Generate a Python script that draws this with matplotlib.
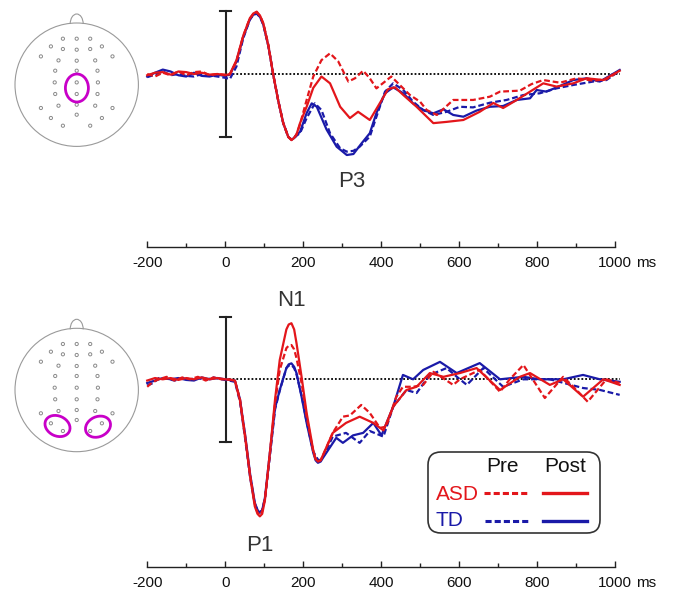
import matplotlib
matplotlib.use('Agg')
import matplotlib.pyplot as plt
from matplotlib.patches import Circle, Ellipse, Arc, FancyBboxPatch

plt.rcParams['font.family'] = ['Liberation Sans', 'DejaVu Sans']

RED = '#e3161b'
BLUE = '#1a1aa8'
MAGENTA = '#c800c8'

# ---------------- data (values in µV, negative plotted upward) ----------------
TIME_TICKS = [-200, 0, 200, 400, 600, 800, 1000]
TIME_TICK_LABELS = ['-200', '0', '200', '400', '600', '800', '1000']
TIME_UNIT = 'ms'
SCALE_BAR_UV = 5
BASELINE_SPAN = [0, 1012]

# Top panel (central ROI)
top_asd_pre_t = [-200, -180, -160, -140, -120, -100, -80, -60, -40, -20, 0, 12, 29, 46, 63, 72, 81, 90, 98, 111,
                 123, 136, 149, 162, 170, 176, 183, 192, 209, 226, 247, 269, 290, 316, 333, 354, 371, 388, 410, 426,
                 448, 474, 500, 517, 543, 585, 636, 679, 705, 756, 786, 816, 859, 902, 944, 978, 1012]
top_asd_pre_v = [0.0, 0.2, -0.1, 0.1, -0.2, 0.1, -0.15, -0.2, 0.1, 0.0, 0.05, 0.05, -1.0, -3.0, -4.4, -4.75, -4.9,
                 -4.6, -4.0, -2.3, 0.0, 2.1, 3.9, 5.0, 5.2, 5.1, 4.8, 4.0, 2.06, 0.2, -1.1, -1.64, -1.0, 0.6, 0.34,
                 -0.26, 0.34, 1.14, 0.6, 0.2, 0.87, 1.67, 2.2, 2.86, 3.25, 2.06, 2.06, 1.8, 1.4, 1.32, 0.8, 0.48,
                 0.69, 0.34, 0.53, 0.42, -0.26]
top_asd_post_t = [-200, -180, -160, -140, -120, -100, -80, -60, -40, -20, 0, 12, 29, 46, 63, 72, 81, 90, 98, 111,
                  123, 136, 149, 162, 170, 176, 183, 192, 209, 226, 247, 269, 295, 320, 341, 371, 397, 418, 436, 457,
                  491, 534, 568, 611, 653, 688, 713, 748, 782, 816, 850, 893, 927, 970, 1012]
top_asd_post_v = [0.1, -0.1, -0.15, 0.05, -0.2, -0.15, 0.0, -0.1, 0.05, 0.0, 0.1, 0.0, -1.1, -3.0, -4.4, -4.8, -4.95,
                  -4.6, -4.0, -2.2, 0.0, 2.1, 3.9, 5.0, 5.25, 5.1, 4.8, 3.9, 2.6, 1.1, 0.2, 0.74, 2.6, 3.5, 3.0, 3.65,
                  2.3, 1.2, 1.06, 1.67, 2.6, 3.9, 3.8, 3.65, 3.0, 2.3, 2.7, 2.06, 1.4, 0.74, 1.0, 0.74, 0.34, 0.48,
                  -0.26]
top_td_post_t = [-200, -180, -160, -140, -120, -100, -80, -60, -40, -20, 0, 12, 29, 46, 63, 72, 81, 90, 98, 111,
                 123, 136, 149, 162, 170, 176, 183, 192, 209, 222, 235, 260, 286, 312, 329, 350, 371, 388, 410, 431,
                 457, 482, 508, 534, 560, 585, 611, 645, 679, 713, 748, 782, 799, 824, 859, 893, 927, 961, 1012]
top_td_post_v = [0.2, -0.1, -0.35, -0.2, 0.1, 0.2, -0.1, 0.15, 0.2, 0.05, 0.15, 0.05, -1.0, -2.9, -4.3, -4.7, -4.8,
                 -4.5, -3.9, -2.2, 0.0, 2.1, 3.9, 5.0, 5.2, 5.1, 4.8, 4.6, 3.1, 2.33, 2.6, 4.4, 5.77, 6.43, 6.35, 5.5,
                 4.7, 3.1, 1.53, 1.06, 1.53, 2.33, 2.86, 3.12, 2.8, 3.25, 3.39, 2.9, 2.6, 2.54, 2.06, 1.93, 1.27, 1.4,
                 0.95, 0.48, 0.34, 0.6, -0.32]
top_td_pre_t = [-200, -180, -160, -140, -120, -100, -80, -60, -40, -20, 0, 12, 29, 46, 63, 72, 81, 90, 98, 111,
                123, 136, 149, 162, 170, 176, 183, 192, 209, 230, 247, 269, 295, 312, 329, 345, 371, 388, 410, 431,
                457, 482, 508, 534, 568, 602, 636, 679, 722, 765, 807, 850, 893, 944, 978, 1012]
top_td_pre_v = [0.25, 0.05, -0.2, 0.1, 0.0, 0.15, 0.2, 0.0, 0.1, 0.2, 0.3, 0.4, -0.6, -2.8, -4.3, -4.7, -4.8, -4.5,
                -3.9, -2.2, 0.0, 2.1, 3.9, 5.0, 5.2, 5.15, 4.9, 4.7, 3.5, 2.33, 2.86, 4.7, 5.9, 6.16, 6.1, 5.77, 4.97,
                3.39, 1.4, 0.74, 1.27, 2.2, 2.86, 3.25, 3.0, 2.6, 2.65, 2.28, 2.06, 1.67, 1.53, 1.14, 0.87, 0.6, 0.48,
                -0.26]

# Bottom panel (occipital ROIs)
bot_asd_pre_t = [-200, -185, -170, -150, -130, -110, -90, -70, -50, -30, -10, 10, 25, 38, 51, 64, 76, 83, 89, 95,
                 102, 115, 128, 140, 157, 163, 170, 177, 183, 196, 209, 226, 232, 238, 245, 251, 276, 302, 320, 349,
                 371, 397, 413, 439, 456, 482, 508, 534, 585, 602, 653, 705, 730, 765, 820, 867, 901, 930, 978, 1012]
bot_asd_pre_v = [0.6, 0.2, 0.0, -0.2, 0.1, -0.15, 0.0, -0.2, 0.1, -0.15, 0.0, 0.0, 0.1, 1.6, 4.5, 7.7, 10.0, 10.7,
                 10.9, 10.6, 9.6, 5.9, 1.9, -0.75, -2.5, -2.7, -2.75, -2.4, -1.7, 0.3, 3.0, 5.8, 6.4, 6.6, 6.5, 6.1,
                 4.3, 3.0, 2.9, 2.06, 2.7, 3.9, 3.8, 1.4, 0.6, 0.6, 0.45, -0.6, 0.45, 0.0, -0.75, 1.0, 0.0, -1.15, 1.5,
                 -0.2, 0.85, 1.8, 0.0, 0.3]
bot_asd_post_t = [-200, -180, -160, -140, -120, -100, -80, -60, -40, -20, 0, 25, 38, 51, 64, 76, 83, 89, 95, 102,
                  115, 128, 140, 157, 163, 170, 177, 183, 196, 209, 226, 232, 238, 245, 251, 276, 310, 345, 380, 406,
                  431, 465, 491, 525, 560, 602, 645, 705, 756, 782, 833, 867, 918, 970, 1012]
bot_asd_post_v = [0.1, -0.1, 0.0, -0.1, 0.05, -0.1, 0.0, -0.15, 0.0, -0.1, 0.0, 0.1, 1.7, 4.6, 7.8, 10.2, 10.8,
                  11.0, 10.8, 9.7, 5.8, 1.6, -1.55, -4.0, -4.4, -4.5, -4.0, -2.9, -0.2, 2.7, 5.7, 6.4, 6.6, 6.5, 6.07,
                  4.3, 3.5, 3.0, 3.5, 4.1, 2.2, 0.86, 0.6, -0.5, -0.2, -0.5, -0.9, 0.86, -0.2, -0.5, 0.45, 0.0, 1.4,
                  0.0, 0.45]
bot_td_post_t = [-200, -180, -160, -140, -120, -100, -80, -60, -40, -20, 0, 25, 38, 51, 64, 76, 83, 89, 95, 102,
                 115, 128, 140, 157, 163, 170, 177, 183, 196, 209, 226, 232, 238, 245, 251, 285, 302, 328, 354, 380,
                 401, 431, 456, 482, 508, 551, 594, 653, 705, 765, 807, 867, 918, 961, 1012]
bot_td_post_v = [0.3, 0.1, -0.1, 0.0, -0.1, 0.05, 0.1, -0.15, 0.0, -0.1, 0.0, 0.1, 1.6, 4.4, 7.6, 9.9, 10.5, 10.7,
                 10.5, 9.5, 5.8, 2.3, 0.86, -0.9, -1.2, -1.28, -1.0, -0.5, 1.4, 3.5, 5.9, 6.5, 6.7, 6.6, 6.3, 4.7, 5.1,
                 4.5, 4.3, 3.5, 4.5, 2.2, -0.35, 0.0, -0.75, -1.4, -0.5, -1.3, 0.0, -0.2, 0.0, 0.0, -0.35, 0.0, 0.2]
bot_td_pre_t = [-200, -185, -170, -150, -130, -110, -90, -70, -50, -30, -10, 10, 25, 38, 51, 64, 76, 83, 89, 95, 102,
                115, 128, 140, 157, 163, 170, 177, 183, 196, 209, 226, 238, 245, 255, 276, 310, 345, 371, 406, 431,
                465, 491, 525, 568, 602, 620, 662, 713, 765, 833, 918, 961, 1012]
bot_td_pre_v = [0.5, 0.3, -0.1, -0.05, 0.1, -0.1, 0.0, -0.1, 0.05, -0.15, 0.0, 0.1, 0.2, 1.8, 4.7, 7.9, 10.0, 10.5,
                10.7, 10.5, 9.6, 6.1, 2.4, 0.9, -0.9, -1.1, -1.15, -0.9, -0.4, 1.3, 3.4, 5.8, 6.45, 6.5, 6.0, 4.6, 4.3,
                5.1, 4.15, 4.6, 2.2, 0.86, 1.1, -0.35, -0.9, 0.0, 0.45, -0.9, 0.6, 0.0, 0.0, 0.7, 0.85, 1.25]

# component labels (time ms, amplitude µV)
top_labels = [('P3', 325, 8.57)]
bot_labels = [('N1', 169, -6.36), ('P1', 89, 13.3)]

# electrode montage, offsets from head centre in pixels (y down)
ELEC_DX = [-13.8, 0, 13.5, -25.8, -13.8, 0, 13.5, 25.2, -35.8, -18.2, 0, 18.5, 35.8, -21.5, 0, 20.8,
           -22, 0, 21.2, -21.5, 0, 20.8, -35.8, -18.2, 0, 18.5, 35.8, -25.8, 0, 25.2, -13.8, 13.5]
ELEC_DY = [-46, -46, -46, -38.3, -35.7, -35, -35.7, -38.3, -28.3, -24.3, -24, -24.3, -28.3, -14, -14, -14,
           -2.3, -2.3, -2.3, 9.3, 9.3, 9.3, 23.3, 21, 20, 21, 23.3, 33.3, 30, 33.3, 41, 41]

# ---------------- layout ----------------
W, H = 681, 592
fig = plt.figure(figsize=(W / 100, H / 100), dpi=100)
fig.patch.set_facecolor('white')


def add_px_axes(x0, y0, x1, y1):
    return fig.add_axes([x0 / W, 1 - y1 / H, (x1 - x0) / W, (y1 - y0) / H])


X_M200, X_1000 = 147.2, 615.0
PPM = (X_1000 - X_M200) / 1200.0


def t2x(t):
    return X_M200 + (t + 200) * PPM


# overlay axes in pixel coordinates (heads + legend)
ov = fig.add_axes([0, 0, 1, 1])
ov.set_xlim(0, W)
ov.set_ylim(H, 0)
ov.axis('off')

T_MIN, T_MAX = -215, 1025


def wave_axes(y_top, y_bot, base_px, px_per_uv):
    ax = add_px_axes(t2x(T_MIN), y_top, t2x(T_MAX), y_bot)
    ax.set_xlim(T_MIN, T_MAX)
    ax.set_ylim((y_bot - base_px) / px_per_uv, (y_top - base_px) / px_per_uv)
    ax.axis('off')
    return ax


def draw_panel(ax, series, labels):
    ax.plot(BASELINE_SPAN, [0, 0], color='black', lw=1.3, ls=(0, (1, 1.1)), zorder=1)
    ax.plot([2, 2], [-SCALE_BAR_UV, SCALE_BAR_UV], color='#222222', lw=1.5, zorder=1)
    for yv in (-SCALE_BAR_UV, SCALE_BAR_UV):
        ax.plot([-12, 16], [yv, yv], color='#222222', lw=1.5, zorder=1)
    for (t, v, color, dashed) in series:
        ax.plot(t, v, color=color, lw=1.6, ls=(0, (2.6, 1.3)) if dashed else '-',
                solid_joinstyle='round', dash_joinstyle='round', zorder=3)
    for (txt, t, v) in labels:
        ax.text(t, v, txt, ha='center', va='center', fontsize=16, color='#333333', clip_on=False)


top_ax = wave_axes(3, 205, 74.0, 12.6)
draw_panel(top_ax, [(top_td_pre_t, top_td_pre_v, BLUE, True), (top_td_post_t, top_td_post_v, BLUE, False),
                    (top_asd_pre_t, top_asd_pre_v, RED, True), (top_asd_post_t, top_asd_post_v, RED, False)],
           top_labels)

bot_ax = wave_axes(285, 540, 379.3, 12.46)
draw_panel(bot_ax, [(bot_td_pre_t, bot_td_pre_v, BLUE, True), (bot_td_post_t, bot_td_post_v, BLUE, False),
                    (bot_asd_pre_t, bot_asd_pre_v, RED, True), (bot_asd_post_t, bot_asd_post_v, RED, False)],
           bot_labels)


def time_axis(y_line):
    ax = add_px_axes(X_M200, y_line - 6, X_1000, y_line)
    ax.set_facecolor('none')
    ax.set_xlim(-200, 1000)
    ax.set_ylim(0, 1)
    for s in ('top', 'left', 'right'):
        ax.spines[s].set_visible(False)
    ax.spines['bottom'].set_color('#222222')
    ax.spines['bottom'].set_linewidth(1.0)
    ax.set_yticks([])
    ax.set_xticks(TIME_TICKS)
    ax.set_xticklabels(TIME_TICK_LABELS, fontsize=11, color='#111111')
    ax.set_xticks(range(-100, 1000, 200), minor=True)
    ax.tick_params(axis='x', which='major', direction='in', length=4, width=1.0, pad=6.5, color='#222222')
    ax.tick_params(axis='x', which='minor', direction='in', length=3, width=1.0, color='#222222')
    ax.annotate(TIME_UNIT, xy=(1000, 0), xycoords=('data', 'axes fraction'), xytext=(15.3, -6.5),
                textcoords='offset points', ha='left', va='top', fontsize=11, color='#111111')
    return ax


time_axis(247)
time_axis(567)


# heads
def draw_head(cx, cy, rois):
    R = 61.7
    ov.add_patch(Circle((cx, cy), R, fill=False, ec='#9a9a9a', lw=0.8))
    ov.add_patch(Arc((cx, cy - R + 1), 13, 20, theta1=180, theta2=360, ec='#9a9a9a', lw=0.8))
    for dx, dy in zip(ELEC_DX, ELEC_DY):
        ov.add_patch(Circle((cx + dx, cy + dy), 1.6, fc='white', ec='#8a8a8a', lw=0.7))
    for (dx, dy, w, h, ang) in rois:
        ov.add_patch(Ellipse((cx + dx, cy + dy), w, h, angle=ang, fill=False, ec=MAGENTA, lw=2.0))


draw_head(76.7, 84.7, [(0.2, 3.3, 23, 28, 0)])
draw_head(76.7, 390.0, [(-19.2, 36.0, 26, 20, 25), (21.3, 36.7, 26, 20, -25)])

# legend
ov.add_patch(FancyBboxPatch((428, 452), 172, 81, boxstyle='round,pad=0,rounding_size=13',
                            fill=False, ec='#333333', lw=1.2))
ov.text(502, 467, 'Pre', ha='center', va='center', fontsize=15, color='#111111')
ov.text(565, 467, 'Post', ha='center', va='center', fontsize=15, color='#111111')
ov.text(436, 494, 'ASD', ha='left', va='center', fontsize=15, color=RED)
ov.text(436, 521, 'TD', ha='left', va='center', fontsize=15, color=BLUE)
ov.plot([484, 528], [493, 493], color=RED, lw=2.2, ls=(0, (2, 1)))
ov.plot([543, 587], [493, 493], color=RED, lw=2.4)
ov.plot([485, 528], [521, 521], color=BLUE, lw=2.2, ls=(0, (2, 1)))
ov.plot([543, 587], [521, 521], color=BLUE, lw=2.4)

fig.savefig('out.png', dpi=100, facecolor='white')
